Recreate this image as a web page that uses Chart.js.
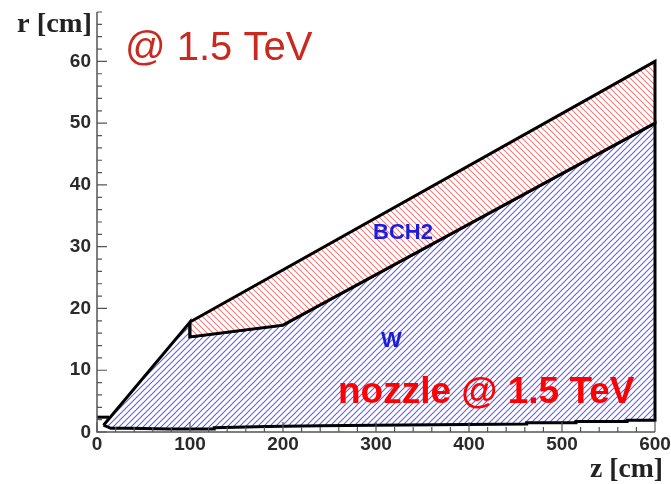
<!DOCTYPE html>
<html>
<head>
<meta charset="utf-8">
<script src="https://cdn.jsdelivr.net/npm/chart.js@4.4.1/dist/chart.umd.min.js"></script>
<style>
  html, body { margin: 0; padding: 0; background: #fff; }
  #wrap { width: 671px; height: 484px; position: relative; }
</style>
</head>
<body>
<div id="wrap"><canvas id="c" width="671" height="484"></canvas></div>
<script>
// ---- data (z in cm, r in cm) ----
// W absorber outline
const wZ = [7, 100, 100, 200, 600, 600, 570, 570, 515, 515, 462, 462, 298, 240, 183, 126, 126, 78, 35, 15, 7];
const wR = [1.1, 17.8, 15.4, 17.3, 50, 1.9, 1.9, 1.7, 1.7, 1.5, 1.5, 1.3, 1.1, 1.0, 0.9, 0.7, 0.5, 0.5, 0.6, 0.6, 1.1];
// BCH2 layer outline
const bZ = [100, 600, 600, 200, 100, 100];
const bR = [17.8, 60, 50, 17.3, 15.4, 17.8];
// small beam pipe stub on the left
const sZ = [0, 13];
const sR = [2.4, 2.4];

const xTicks = [0, 100, 200, 300, 400, 500, 600];
const yTicks = [0, 10, 20, 30, 40, 50, 60];
const xMinor = 20, yMinor = 2;

function pts(zs, rs) { return zs.map((z, i) => ({ x: z, y: rs[i] })); }

// ---- hatch patterns ----
function hatch(color, dir) {
  const s = 6;
  const c = document.createElement("canvas");
  c.width = s; c.height = s;
  const g = c.getContext("2d");
  g.fillStyle = "#fff";
  g.fillRect(0, 0, s, s);
  g.strokeStyle = color;
  g.lineWidth = 1.1;
  g.beginPath();
  if (dir > 0) { // "///"
    g.moveTo(-1, s + 1); g.lineTo(s + 1, -1);
    g.moveTo(-1, 1); g.lineTo(1, -1);
    g.moveTo(s - 1, s + 1); g.lineTo(s + 1, s - 1);
  } else {       // "\\\"
    g.moveTo(-1, -1); g.lineTo(s + 1, s + 1);
    g.moveTo(s - 1, -1); g.lineTo(s + 1, 1);
    g.moveTo(-1, s - 1); g.lineTo(1, s + 1);
  }
  g.stroke();
  return g.createPattern(c, "repeat");
}

const ctx = document.getElementById("c").getContext("2d");
const bluePat = hatch("rgb(95,95,240)", 1);
const redPat = hatch("rgb(240,125,125)", -1);

// draw text squeezed/stretched to a given width
function fitText(g, txt, x, y, w) {
  const m = g.measureText(txt).width;
  g.save();
  g.translate(x, y);
  g.scale(w / m, 1);
  g.fillText(txt, 0, 0);
  g.restore();
}

// ---- axes, ticks, labels (ROOT style) ----
const decor = {
  id: "decor",
  afterDatasetsDraw(chart) {
    const g = chart.ctx, xs = chart.scales.x, ys = chart.scales.y;
    const x0 = xs.getPixelForValue(0), x1 = xs.getPixelForValue(600);
    const yb = ys.getPixelForValue(0), yt = ys.getPixelForValue(68);
    g.save();
    g.strokeStyle = "#555";
    g.lineWidth = 1.5;
    g.beginPath();
    g.moveTo(x0, yt); g.lineTo(x0, yb); g.lineTo(x1, yb);
    g.stroke();
    g.lineWidth = 1.2;
    g.beginPath();
    for (let v = 0; v <= 68; v += yMinor) {
      const y = ys.getPixelForValue(v);
      const len = v % 10 === 0 ? 10 : 5;
      g.moveTo(x0, y); g.lineTo(x0 + len, y);
    }
    for (let v = 0; v <= 600; v += xMinor) {
      const x = xs.getPixelForValue(v);
      const len = v % 100 === 0 ? 10 : 5;
      g.moveTo(x, yb); g.lineTo(x, yb - len);
    }
    g.stroke();

    g.fillStyle = "#2a2a2a";
    g.font = "bold 19px 'Liberation Sans', Arial, sans-serif";
    g.textAlign = "right"; g.textBaseline = "middle";
    yTicks.forEach(v => {
      const y = ys.getPixelForValue(v) + (v === 0 ? 1 : 0);
      g.fillText(String(v), x0 - 6, y);
    });
    g.textAlign = "center"; g.textBaseline = "top";
    xTicks.forEach(v => g.fillText(String(v), xs.getPixelForValue(v), yb + 3));

    g.font = "bold 27px 'Liberation Serif', 'Times New Roman', serif";
    g.textBaseline = "alphabetic";
    g.textAlign = "left";
    g.fillStyle = "#222";
    fitText(g, "r [cm]", 17, 32, 75);
    fitText(g, "z [cm]", 590, 477, 73);

    g.fillStyle = "#c9291f";
    g.font = "40px 'Liberation Sans', Arial, sans-serif";
    g.fillText("@ 1.5 TeV", 125, 60);

    g.fillStyle = "#ff0000";
    g.font = "bold 37px 'Liberation Sans', Arial, sans-serif";
    g.fillText("nozzle @ 1.5 TeV", 338, 403);

    g.fillStyle = "#1c1cdc";
    g.font = "bold 22px 'Liberation Sans', Arial, sans-serif";
    g.fillText("BCH2", 373, 239);
    g.fillText("W", 381, 347);
    g.restore();
  }
};

new Chart(ctx, {
  type: "line",
  data: {
    datasets: [
      {
        label: "stub", data: pts(sZ, sR), borderColor: "#000", borderWidth: 3,
        fill: false, pointRadius: 0, tension: 0, clip: false, order: 0
      },
      {
        label: "BCH2", data: pts(bZ, bR), borderColor: "#000", borderWidth: 3,
        backgroundColor: redPat, fill: "shape", pointRadius: 0, tension: 0,
        borderJoinStyle: "miter", clip: false, order: 1
      },
      {
        label: "W", data: pts(wZ, wR), borderColor: "#000", borderWidth: 3,
        backgroundColor: bluePat, fill: "shape", pointRadius: 0, tension: 0,
        borderJoinStyle: "miter", clip: false, order: 2
      }
    ]
  },
  options: {
    responsive: false,
    animation: false,
    parsing: true,
    layout: { padding: { left: 97, right: 16, top: 12, bottom: 52 } },
    plugins: { legend: { display: false }, tooltip: { enabled: false } },
    scales: {
      x: { type: "linear", min: 0, max: 600, display: false },
      y: { type: "linear", min: 0, max: 68, display: false }
    }
  },
  plugins: [decor]
});
</script>
</body>
</html>
